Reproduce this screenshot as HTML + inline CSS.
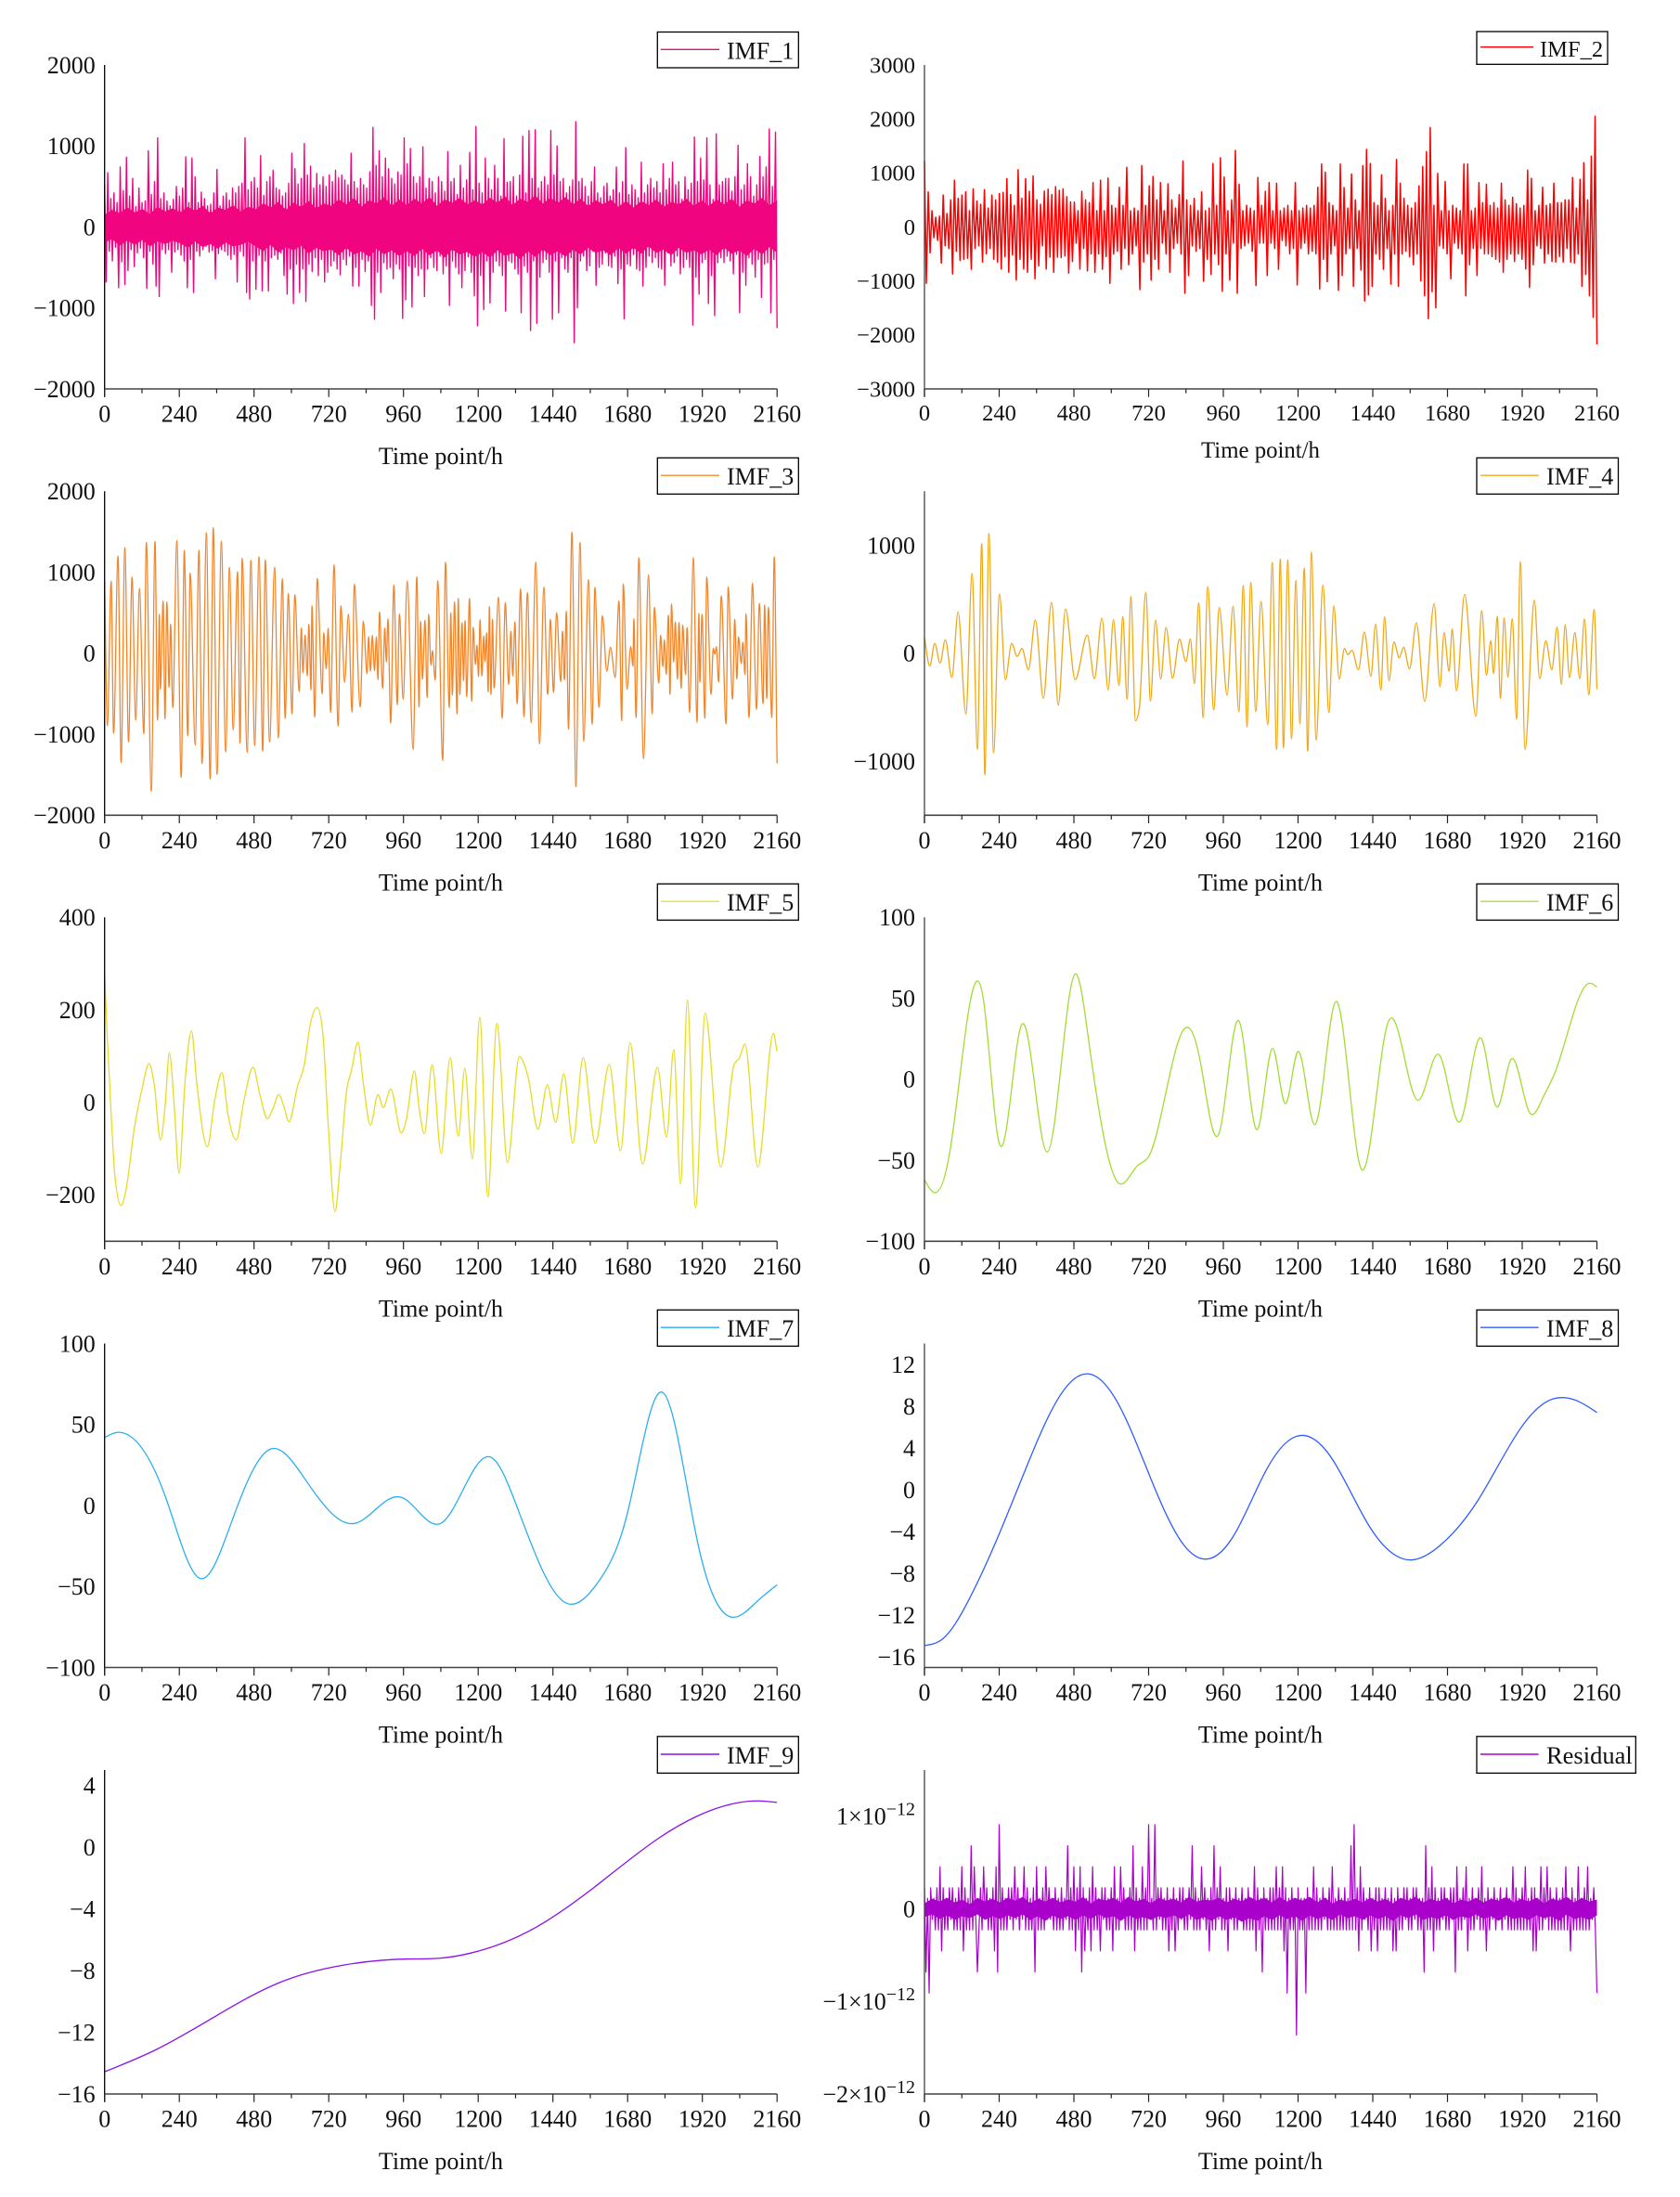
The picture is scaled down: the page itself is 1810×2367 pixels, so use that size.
<!DOCTYPE html>
<html lang="en">
<head>
<meta charset="utf-8">
<title>IMF decomposition</title>
<style>
html,body{margin:0;padding:0;background:#fff;}
svg{display:block;font-family:"Liberation Serif",serif;fill:#111;}
text{fill:#111;}
.lb{fill:#fff;stroke:#000;stroke-width:1.3;}
.s{fill:none;stroke-linejoin:round;}
</style>
</head>
<body>
<svg id="figure" xmlns="http://www.w3.org/2000/svg" width="1810" height="2367" viewBox="0 0 1810 2367">
<rect x="0" y="0" width="1810" height="2367" fill="#fff"/>

<g id="p1">
<text x="475" y="500" font-size="26" text-anchor="middle">Time point/h</text>
<rect class="lb" x="708.3" y="34.5" width="152" height="38.5"/>
<line x1="711.7" x2="775" y1="53.3" y2="53.3" stroke="#f0047f" stroke-width="1.4"/>
<text x="783" y="63.3" font-size="26">IMF_1</text>
</g>
<g id="p2">
<text x="1358" y="493" font-size="24.8" text-anchor="middle">Time point/h</text>
<rect class="lb" x="1591" y="34" width="141" height="35.3"/>
<line x1="1595" x2="1652" y1="50.7" y2="50.7" stroke="#ff0000" stroke-width="1.4"/>
<text x="1659" y="61" font-size="24.5">IMF_2</text>
</g>
<g id="p3">
<text x="475" y="959.3" font-size="26" text-anchor="middle">Time point/h</text>
<rect class="lb" x="708.3" y="493.3" width="152" height="39"/>
<line x1="711.7" x2="775" y1="512.2" y2="512.2" stroke="#f58a2a" stroke-width="1.4"/>
<text x="783" y="522.2" font-size="26">IMF_3</text>
</g>
<g id="p4">
<text x="1358" y="959.3" font-size="26" text-anchor="middle">Time point/h</text>
<rect class="lb" x="1591" y="493.3" width="152.5" height="39"/>
<line x1="1595" x2="1657.6" y1="512.2" y2="512.2" stroke="#efad20" stroke-width="1.4"/>
<text x="1666" y="522.2" font-size="26">IMF_4</text>
</g>
<g id="p5">
<text x="475" y="1418.3" font-size="26" text-anchor="middle">Time point/h</text>
<rect class="lb" x="708.3" y="952.3" width="152" height="39"/>
<line x1="711.7" x2="775" y1="971.2" y2="971.2" stroke="#e8df35" stroke-width="1.4"/>
<text x="783" y="981.2" font-size="26">IMF_5</text>
</g>
<g id="p6">
<text x="1358" y="1418.3" font-size="26" text-anchor="middle">Time point/h</text>
<rect class="lb" x="1591" y="952.3" width="152.5" height="39"/>
<line x1="1595" x2="1657.6" y1="971.2" y2="971.2" stroke="#a8e03c" stroke-width="1.4"/>
<text x="1666" y="981.2" font-size="26">IMF_6</text>
</g>
<g id="p7">
<text x="475" y="1877.5" font-size="26" text-anchor="middle">Time point/h</text>
<rect class="lb" x="708.3" y="1411.3" width="152" height="39"/>
<line x1="711.7" x2="775" y1="1430.2" y2="1430.2" stroke="#2aaef0" stroke-width="1.4"/>
<text x="783" y="1440.2" font-size="26">IMF_7</text>
</g>
<g id="p8">
<text x="1358" y="1877.5" font-size="26" text-anchor="middle">Time point/h</text>
<rect class="lb" x="1591" y="1411.3" width="152.5" height="39"/>
<line x1="1595" x2="1657.6" y1="1430.2" y2="1430.2" stroke="#2f5cff" stroke-width="1.4"/>
<text x="1666" y="1440.2" font-size="26">IMF_8</text>
</g>
<g id="p9">
<text x="475" y="2337" font-size="26" text-anchor="middle">Time point/h</text>
<rect class="lb" x="708.3" y="1870.8" width="152" height="39.5"/>
<line x1="711.7" x2="775" y1="1890" y2="1890" stroke="#8a10e8" stroke-width="1.4"/>
<text x="783" y="1900" font-size="26">IMF_9</text>
</g>
<g id="p10">
<text x="1358" y="2337" font-size="26" text-anchor="middle">Time point/h</text>
<rect class="lb" x="1591" y="1870.8" width="171.3" height="39.5"/>
<line x1="1595" x2="1657.6" y1="1890" y2="1890" stroke="#aa00cc" stroke-width="1.4"/>
<text x="1666" y="1900" font-size="26.5">Residual</text>
</g>
</svg>

<script>
// ---------- shared axis data ----------
const xTickHours = [0,240,480,720,960,1200,1440,1680,1920,2160];
const xMinorHours = [120,360,600,840,1080,1320,1560,1800,2040];
const imf1Ticks = [-2000,-1000,0,1000,2000];
const imf2Ticks = [-3000,-2000,-1000,0,1000,2000,3000];
const imf3Ticks = [-2000,-1000,0,1000,2000];
const imf4Ticks = [-1000,0,1000];
const imf5Ticks = [-200,0,200,400];
const imf6Ticks = [-100,-50,0,50,100];
const imf7Ticks = [-100,-50,0,50,100];
const imf8Ticks = [-16,-12,-8,-4,0,4,8,12];
const imf9Ticks = [-16,-12,-8,-4,0,4];
const residualTicks = [-2,-1,0,1];

// ---------- IMF_1: evenly spaced samples across 0..2160 h ----------
const imf1Values = [
520,-680,670,-300,350,-420,420,-250,300,-750,740,-430,450,-710,860,-540,380,-280,600,-490,
250,-320,480,-260,300,-380,320,-760,940,-300,400,-460,560,-730,1100,-860,350,-280,420,-330,
320,-280,260,-560,340,-310,500,-280,380,-350,480,-420,865,-750,300,-400,850,-810,620,-300,
300,-360,430,-280,350,-240,260,-310,280,-290,420,-640,710,-330,260,-280,380,-300,420,-350,
330,-400,480,-340,420,-680,500,-300,540,-360,1100,-810,460,-890,560,-420,610,-770,480,-350,
880,-790,390,-420,560,-790,620,-380,700,-350,480,-400,460,-320,380,-600,420,-830,540,-520,
910,-945,720,-460,530,-810,600,-520,1030,-920,640,-460,750,-550,480,-380,660,-600,520,-400,
620,-680,500,-560,640,-480,560,-420,700,-520,610,-590,640,-400,580,-470,520,-360,910,-730,
560,-500,480,-730,600,-400,520,-550,480,-420,680,-970,1230,-1140,760,-560,940,-810,620,-440,
850,-520,720,-500,600,-640,530,-460,680,-520,640,-1130,1100,-900,780,-480,970,-990,620,-500,
540,-600,620,-520,990,-860,480,-520,600,-380,560,-500,420,-540,620,-360,560,-580,440,-480,
930,-970,560,-420,600,-500,400,-580,760,-750,480,-540,580,-370,920,-560,460,-850,1240,-1220,
540,-600,420,-1020,850,-420,600,-940,460,-560,760,-420,600,-480,380,-600,1090,-1040,550,-420,
560,-440,620,-520,380,-580,640,-1060,1120,-480,420,-560,1190,-1280,600,-420,1200,-1190,480,-620,
560,-440,620,-400,520,-560,1190,-1140,640,-420,1000,-1060,560,-380,600,-520,420,-560,500,-380,
580,-1430,1300,-1000,560,-420,600,-360,500,-540,380,-480,560,-300,740,-720,420,-500,360,-460,
500,-320,540,-480,380,-500,460,-360,740,-700,420,-520,560,-1135,980,-460,400,-480,520,-340,
460,-520,360,-540,800,-730,420,-500,520,-360,600,-440,480,-380,560,-500,420,-520,780,-720,
460,-320,600,-480,800,-440,520,-360,560,-580,340,-500,620,-400,460,-500,540,-1210,1110,-620,
560,-830,850,-440,580,-400,1100,-945,520,-600,340,-1095,1150,-440,520,-380,560,-440,600,-360,
600,-420,440,-580,620,-340,1010,-1060,460,-560,520,-720,780,-380,620,-460,380,-620,520,-400,
870,-870,620,-460,740,-440,1210,-1060,500,-400,1170,-1250
];
// solid core of the dense trace, evenly spaced across the span
const imf1BandUpper = [
150,210,170,240,180,220,160,250,190,230,
180,250,200,260,170,240,210,270,190,250,
220,290,240,310,210,300,250,320,230,290,
260,340,280,360,250,330,290,370,260,340,
270,350,290,370,260,340,300,360,280,330,
280,360,300,380,270,350,310,390,290,360,
300,370,280,350,260,330,280,340,250,320,
240,320,270,340,250,310,280,350,260,330,
260,340,280,350,250,330,290,360,270,330];
const imf1BandLower = [
-190,-150,-230,-170,-220,-160,-240,-180,-210,-170,
-200,-260,-180,-250,-210,-270,-190,-240,-220,-180,
-240,-300,-220,-320,-250,-290,-230,-330,-260,-300,
-280,-350,-260,-340,-300,-370,-270,-340,-290,-360,
-300,-360,-270,-350,-290,-380,-280,-340,-310,-370,
-310,-380,-290,-360,-320,-400,-300,-370,-280,-350,
-300,-370,-280,-340,-260,-320,-290,-350,-260,-330,
-260,-330,-240,-320,-280,-350,-260,-320,-290,-340,
-280,-350,-260,-330,-290,-360,-270,-340,-250,-320];

// ---------- IMF_2: evenly spaced samples ----------
const imf2Values = [
1220,-1045,650,-480,300,-200,180,-250,200,-670,590,-350,250,-400,500,-870,866,-450,530,-620,
590,-600,650,-580,300,-785,705,-400,480,-350,420,-650,690,-500,350,-400,590,-600,500,-650,
620,-780,640,-550,895,-840,600,-520,400,-985,1060,-600,530,-780,895,-840,660,-600,945,-960,
500,-720,420,-350,665,-780,700,-560,600,-840,745,-560,680,-570,705,-540,560,-855,465,-640,
460,-300,300,-780,660,-400,500,-815,450,-500,820,-840,300,-500,866,-785,300,-550,905,-1045,
400,-500,350,-450,735,-785,400,-400,1105,-700,300,-500,350,-350,300,-1160,1135,-650,400,-500,
760,-985,935,-600,500,-785,820,-300,300,-500,800,-840,500,-400,350,-300,600,-500,1220,-1230,
500,-900,400,-350,530,-450,300,-400,650,-1005,300,-600,350,-880,1175,-500,400,-700,1280,-1190,
925,-500,300,-985,500,-300,1417,-1230,790,-400,300,-350,400,-300,350,-450,300,-1085,915,-300,
400,-300,660,-900,820,-300,300,-400,810,-785,300,-250,350,-350,400,-500,300,-400,820,-1075,
300,-400,350,-300,400,-500,350,-450,400,-500,735,-1150,1165,-600,1015,-1015,450,-500,400,-350,
300,-1175,1165,-900,730,-500,350,-400,980,-1100,500,-400,300,-800,1135,-1370,1435,-1260,1175,-1100,
450,-500,400,-600,965,-785,530,-400,300,-1060,400,-500,1250,-1100,810,-500,530,-450,400,-550,
350,-700,450,-500,760,-1000,1120,-1275,1395,-1700,1840,-1200,400,-1500,990,-350,300,-400,840,-500,
300,-960,400,-300,350,-400,300,-500,1165,-1275,1165,-700,300,-400,350,-900,820,-400,450,-500,
790,-500,400,-550,450,-600,350,-650,810,-840,500,-600,400,-500,550,-640,430,-500,350,-600,
400,-780,1050,-1120,900,-700,300,-350,400,-400,735,-670,400,-500,430,-640,810,-650,450,-550,
450,-650,500,-400,500,-650,915,-670,350,-500,880,-1100,1190,-880,500,-1275,1310,-1675,2050,-2175
];

// ---------- IMF_3: extrema, hours + values ----------
const imf3Hours = [0,9,21,29,43,53,65,77,88,100,112,126,134,150,162,170,176,179,188,194,200,207,212,219,232,246,256,267,275,291,303,313,327,339,349,361,375,389,401,413,427,435,442,458,470,482,496,508,516,530,546,558,571,580,590,602,611,625,632,637,644,651,656,663,666,675,683,699,704,712,718,726,737,750,759,771,783,795,802,821,831,843,848,854,860,867,873,878,883,893,900,905,910,919,929,940,947,959,972,991,1003,1010,1015,1021,1029,1036,1041,1048,1053,1062,1070,1086,1095,1107,1112,1117,1124,1132,1136,1141,1148,1153,1158,1163,1172,1179,1184,1191,1196,1201,1206,1212,1218,1222,1227,1232,1236,1241,1246,1251,1265,1277,1287,1298,1305,1311,1318,1325,1336,1347,1358,1370,1385,1397,1411,1423,1432,1442,1452,1465,1471,1477,1483,1490,1501,1514,1527,1539,1554,1566,1575,1588,1599,1613,1625,1640,1652,1661,1666,1678,1690,1697,1700,1707,1716,1731,1747,1759,1766,1780,1786,1793,1798,1804,1811,1816,1821,1828,1833,1840,1845,1852,1857,1866,1871,1879,1891,1903,1909,1912,1919,1928,1934,1948,1955,1960,1965,1972,1981,1996,2003,2017,2024,2031,2036,2045,2050,2057,2060,2070,2081,2094,2103,2115,2120,2127,2132,2143,2151,2160];
const imf3Values = [880,-892,892,-987,1201,-1350,1304,-1094,942,-827,800,-995,1370,-1706,1381,-827,483,-445,647,-815,636,-422,361,-674,1392,-1534,1270,-1018,991,-1133,1270,-1362,1488,-1553,1549,-1495,1381,-1217,1060,-949,1007,-1110,1175,-1224,1148,-1140,1190,-1209,1152,-1094,1060,-1045,923,-808,739,-751,724,-472,311,-243,227,-281,357,-453,586,-789,923,-502,254,-193,311,-732,1094,-900,586,-357,483,-728,854,-663,395,-254,208,-223,223,-216,204,-327,510,-434,311,-109,426,-865,846,-636,483,-567,892,-1186,942,-663,395,-319,407,-548,483,-147,32,-330,896,-1324,1125,-674,502,-518,636,-751,678,-510,376,-338,403,-537,678,-594,323,-139,101,-288,414,-281,216,-101,254,-479,579,-510,418,-430,693,-804,625,-384,273,-281,388,-625,796,-785,751,-858,1125,-1117,819,-510,418,-483,502,-350,273,-330,521,-938,1496,-1648,1369,-1083,911,-880,816,-670,464,-223,74,-300,647,-835,854,-445,82,-159,426,-796,1178,-1301,968,-751,567,-369,223,-166,166,-262,472,-510,609,-109,388,-319,380,-434,349,-262,319,-732,1182,-854,495,-357,483,-804,942,-510,63,-13,82,-357,709,-873,819,-567,418,-319,204,-128,136,-262,487,-796,865,-693,617,-625,598,-560,571,-796,1190,-1362];

// ---------- IMF_4: extrema ----------
const imf4Hours = [0,17,33,50,67,88,108,133,153,170,184,194,207,222,241,260,280,298,313,334,356,382,408,430,453,484,523,546,570,590,607,625,637,651,663,678,690,711,726,742,759,776,797,819,840,854,867,881,895,910,929,947,972,991,1010,1024,1036,1048,1064,1081,1103,1117,1131,1143,1153,1167,1179,1193,1206,1220,1231,1243,1258,1280,1299,1315,1332,1349,1360,1373,1394,1413,1434,1449,1466,1478,1492,1508,1525,1539,1558,1580,1607,1637,1656,1669,1685,1695,1709,1735,1771,1790,1805,1819,1828,1840,1850,1862,1874,1888,1902,1914,1929,1959,1976,1996,2015,2032,2046,2058,2072,2089,2105,2120,2134,2151,2160];
const imf4Values = [148,-119,90,-90,125,-225,382,-563,738,-890,1016,-1127,1110,-921,549,-245,90,-30,44,-153,308,-417,471,-480,411,-245,168,-236,325,-340,311,-299,339,-425,526,-626,-511,563,-443,308,-239,239,-231,130,-76,133,-282,466,-597,617,-526,425,-388,434,-540,629,-683,657,-540,480,-663,841,-890,872,-875,864,-792,675,-655,789,-907,935,-804,632,-549,437,-239,44,-13,27,-153,196,-213,268,-340,337,-254,105,-42,56,-145,282,-446,460,-311,191,-168,225,-348,546,-583,394,-205,116,-188,342,-417,328,-222,319,-612,849,-890,491,-236,116,-153,242,-288,265,-225,191,-236,316,-385,405,-334];

// ---------- IMF_5: turning points ----------
const imf5Hours = [0,9,22,34,53,69,95,120,143,160,179,194,208,224,239,258,279,296,330,353,377,396,423,447,477,499,523,542,559,577,592,620,642,659,683,700,718,740,757,778,792,814,831,854,878,895,919,953,969,995,1010,1027,1052,1081,1110,1136,1157,1181,1205,1231,1260,1294,1332,1360,1392,1422,1449,1475,1504,1537,1576,1621,1657,1688,1728,1776,1805,1828,1850,1872,1898,1929,1979,2022,2039,2057,2098,2148,2160];
const imf5Values = [276,136,-38,-165,-223,-188,-58,29,84,36,-81,-11,107,-11,-153,42,154,42,-96,2,64,-25,-81,2,76,16,-35,-11,17,-11,-42,36,83,163,205,156,-45,-236,-132,29,66,130,42,-49,17,-11,29,-66,-38,68,-11,-68,82,-110,97,-73,74,-122,184,-204,171,-130,99,56,-58,38,-43,62,-88,97,-88,82,-105,129,-133,76,-75,114,-176,221,-228,193,-140,82,96,126,-140,149,110];

// ---------- IMF_6 ----------
const imf6Hours = [0,34,83,155,191,241,313,394,484,526,623,686,722,830,885,947,1010,1069,1118,1159,1199,1253,1321,1402,1487,1586,1654,1721,1789,1838,1883,1942,1985,2027,2131,2160];
const imf6Values = [-62,-70,-43,55,47,-40,34,-45,65,26,-64,-53,-47,30,12,-33,36,-31,19,-15,17,-28,48,-55,34,-13,15,-26,25,-17,12,-20,-12,5,59,57];

// ---------- IMF_7 ----------
const imf7Hours = [0,36,94,198,306,410,535,634,805,954,1080,1238,1323,1480,1590,1679,1791,1904,2021,2097,2160];
const imf7Values = [42,45,41,4,-45,-9,35,19,-11,5,-11,30,0,-60,-46,-5,70,-22,-69,-59,-49];

// ---------- IMF_8 ----------
const imf8Hours = [0,57,143,229,332,435,525,625,728,831,914,995,1098,1193,1220,1313,1425,1528,1568,1657,1778,1915,2019,2062,2105,2160];
const imf8Values = [-14.9,-14.3,-10.5,-5,2.5,9,11.1,8.1,1,-5.2,-6.6,-4.3,1.9,5.1,5.2,2.8,-3.3,-6.5,-6.7,-5.3,-1,5.9,8.7,8.8,8.4,7.4];

// ---------- IMF_9 ----------
const imf9Hours = [0,163,353,559,766,972,1076,1179,1385,1592,1781,1902,2040,2100,2160];
const imf9Values = [-14.56,-13.15,-11,-8.8,-7.65,-7.25,-7.2,-6.85,-5.2,-2.3,0.6,2,2.9,3,2.9];

// ---------- Residual: evenly spaced samples, in floating-point quanta ----------
const residualQuantum = 0.2274; // one quantum in units of 1e-12
const residualQuanta = [
1,-3,.5,-4,1,-.5,.5,-1,1,-1,2,-2,1,-1,.5,-1,1,-.5,1,-1,
.5,-1,1,-1,2,-2,1,-1,.5,-1,3,-1,2,-.5,-3,-1,1,-1,2,-.5,
1,-1,.5,-1,1,-2,2,-3,4,-1,1,-1,.5,-1,1,-.5,1,-1,2,-.5,
1,-1,.5,-.5,2,-1,1,-1,.5,-1,1,-3,2,-1,.5,-1,1,-1,2,-.5,
1,-.5,.5,-1,1,-1,.5,-1,1,-1,.5,-.5,3,-1,1,-1,2,-2,1,-1,
2,-3,1,-2,.5,-1,1,-2,2,-1,1,-1,.5,-2,1,-.5,1,-1,.5,-1,
1,-2,2,-1,.5,-1,2,-.5,1,-1,.5,-1,1,-1,3,-2,1,-1,.5,-1,
2,-1,1,-1,4,-.5,.5,-1,4,-1,1,-.5,1,-1,.5,-1,1,-2,.5,-1,
1,-2,.5,-1,1,-.5,1,-1,.5,-1,1,-.5,3,-1,1,-1,.5,-1,2,-.5,
1,-1,.5,-2,1,-1,3,-1,1,-.5,2,-1,.5,-1,1,-2,1,-.5,.5,-1,
1,-1,.5,-.5,1,-1,.5,-1,1,-1,.5,-1,2,-2,1,-1,.5,-3,1,-1,
.5,-1,1,-1,1,-1,2,-1,1,-1,2,-2,1,-4,.5,-1,1,-1,.5,-6,
1,-1,.5,-1,.5,-4,1,-1,.5,-1,2,-1,1,-1,.5,-1,1,-.5,.5,-1,
1,-1,2,-1,.5,-1,1,-1,.5,-1,1,-1,.5,-1,3,-1,4,-1,1,-2,
2,-1,1,-.5,.5,-1,1,-2,.5,-1,1,-2,1,-1,.5,-1,1,-1,.5,-1,
1,-2,.5,-2,1,-1,.5,-1,1,-.5,1,-1,.5,-1,1,-.5,1,-1,.5,-1,
.5,-3,3,-1,1,-1,2,-2,1,-1,.5,-1,1,-.5,1,-1,.5,-1,1,-.5,
1,-3,2,-1,.5,-1,1,-.5,2,-2,.5,-1,1,-1,.5,-.5,1,-1,2,-1,
.5,-2,1,-1,.5,-.5,1,-1,.5,-.5,1,-1,.5,-.5,1,-1,.5,-1,2,-1,
1,-1,.5,-1,1,-1,2,-1,.5,-1,1,-2,1,-2,.5,-1,2,-1,1,-.5,
2,-1,1,-1,.5,-1,1,-1,.5,-1,1,-1,2,-1,.5,-2,1,-1,.5,-1,
2,-1,.5,-1,1,-1,2,-1,.5,-.5,1,-1,-4
];
const residualBandUpper = [
.06,.11,.08,.12,.07,.1,.05,.12,.08,.11,
.07,.12,.09,.13,.06,.11,.08,.12,.07,.1,
.08,.13,.06,.11,.09,.12,.07,.13,.08,.11,
.06,.12,.09,.11,.07,.13,.08,.1,.09,.12,
.07,.11,.08,.13,.09,.12,.07,.13,.08,.12,
.09,.13,.07,.12,.06,.1,.08,.11,.07,.12,
.08,.11,.06,.12,.09,.13,.07,.11,.08,.12,
.06,.1,.08,.12,.07,.11,.09,.13,.07,.11,
.08,.12,.06,.11,.09,.13,.07,.12,.08,.1];
const residualBandLower = [
-.09,-.06,-.11,-.07,-.12,-.08,-.1,-.06,-.12,-.08,
-.11,-.07,-.1,-.06,-.12,-.08,-.13,-.07,-.11,-.08,
-.12,-.07,-.11,-.06,-.1,-.08,-.13,-.07,-.11,-.09,
-.12,-.08,-.1,-.07,-.11,-.06,-.12,-.09,-.13,-.08,
-.12,-.09,-.14,-.1,-.13,-.08,-.12,-.07,-.11,-.08,
-.13,-.07,-.11,-.08,-.12,-.06,-.1,-.08,-.12,-.07,
-.11,-.08,-.13,-.07,-.1,-.06,-.12,-.09,-.11,-.07,
-.12,-.08,-.1,-.06,-.11,-.08,-.13,-.07,-.11,-.09,
-.12,-.07,-.1,-.08,-.13,-.06,-.11,-.09,-.12,-.07];

const NS = 'http://www.w3.org/2000/svg';
const HOURS_MAX = 2160;
const PLOT_W = 724.5;
const PLOT_H = 349;

function evenHours(values){
  return values.map(function(_, i){ return i * HOURS_MAX / (values.length - 1); });
}
const residualValues = residualQuanta.map(function(q){ return q * residualQuantum; });

function add(parent, tag){
  const el = document.createElementNS(NS, tag);
  parent.appendChild(el);
  return el;
}

function linePath(px, py){
  let d = '';
  for (let i = 0; i < px.length; i++){
    d += (i ? 'L' : 'M') + px[i].toFixed(2) + ' ' + py[i].toFixed(2);
  }
  return d;
}

function bezierPath(px, py, m){
  let d = 'M' + px[0].toFixed(2) + ' ' + py[0].toFixed(2);
  for (let i = 0; i < px.length - 1; i++){
    const h = (px[i+1] - px[i]) / 3;
    d += 'C' + (px[i] + h).toFixed(2) + ' ' + (py[i] + m[i] * h).toFixed(2) + ' ' +
         (px[i+1] - h).toFixed(2) + ' ' + (py[i+1] - m[i+1] * h).toFixed(2) + ' ' +
         px[i+1].toFixed(2) + ' ' + py[i+1].toFixed(2);
  }
  return d;
}

// monotone cubic through the turning points
function smoothPath(px, py){
  const n = px.length;
  const m = new Array(n).fill(0);
  const s = [];
  for (let i = 0; i < n - 1; i++){ s.push((py[i+1] - py[i]) / (px[i+1] - px[i])); }
  for (let i = 1; i < n - 1; i++){
    if (s[i-1] * s[i] > 0){
      const h0 = px[i] - px[i-1], h1 = px[i+1] - px[i];
      const p = (s[i-1] * h1 + s[i] * h0) / (h0 + h1);
      m[i] = (Math.sign(s[i-1]) + Math.sign(s[i])) * Math.min(Math.abs(s[i-1]), Math.abs(s[i]), 0.5 * Math.abs(p));
    }
  }
  m[0] = s[0]; m[n-1] = s[n-2];
  return bezierPath(px, py, m);
}

// natural cubic spline for the slow components
function splinePath(px, py){
  const n = px.length;
  const a = new Array(n).fill(0), b = new Array(n).fill(0), c = new Array(n).fill(0), r = new Array(n).fill(0);
  const h = [];
  for (let i = 0; i < n - 1; i++){ h.push(px[i+1] - px[i]); }
  b[0] = 2 / h[0]; c[0] = 1 / h[0]; r[0] = 3 * (py[1] - py[0]) / (h[0] * h[0]);
  for (let i = 1; i < n - 1; i++){
    a[i] = 1 / h[i-1];
    b[i] = 2 / h[i-1] + 2 / h[i];
    c[i] = 1 / h[i];
    r[i] = 3 * ((py[i] - py[i-1]) / (h[i-1] * h[i-1]) + (py[i+1] - py[i]) / (h[i] * h[i]));
  }
  a[n-1] = 1 / h[n-2]; b[n-1] = 2 / h[n-2]; r[n-1] = 3 * (py[n-1] - py[n-2]) / (h[n-2] * h[n-2]);
  for (let i = 1; i < n; i++){
    const w = a[i] / b[i-1];
    b[i] -= w * c[i-1];
    r[i] -= w * r[i-1];
  }
  const m = new Array(n);
  m[n-1] = r[n-1] / b[n-1];
  for (let i = n - 2; i >= 0; i--){ m[i] = (r[i] - c[i] * m[i+1]) / b[i]; }
  return bezierPath(px, py, m);
}

const panels = [
 {id:'p1', x:112.7, top:70,     yMin:-2000, yMax:2000, ticks:imf1Ticks, hours:evenHours(imf1Values), values:imf1Values, upper:imf1BandUpper, lower:imf1BandLower, color:'#f0047f', width:1.35, curve:'line', fs:26, axis:'#000', tickDy:35.5},
 {id:'p2', x:996,   top:70,     yMin:-3000, yMax:3000, ticks:imf2Ticks, hours:evenHours(imf2Values), values:imf2Values, color:'#ff0000', width:1.5, curve:'line', fs:24.5, axis:'#444', tickDy:34},
 {id:'p3', x:112.7, top:529.3,  yMin:-2000, yMax:2000, ticks:imf3Ticks, hours:imf3Hours, values:imf3Values, color:'#f2852a', width:1.3, curve:'mono', fs:26, axis:'#000', tickDy:35.5},
 {id:'p4', x:996,   top:529.3,  yMin:-1500, yMax:1500, ticks:imf4Ticks, hours:imf4Hours, values:imf4Values, color:'#efa818', width:1.3, curve:'mono', fs:26, axis:'#444', tickDy:35.5},
 {id:'p5', x:112.7, top:988.3,  yMin:-300,  yMax:400,  ticks:imf5Ticks, hours:imf5Hours, values:imf5Values, color:'#e6dc25', width:1.3, curve:'mono', fs:26, axis:'#000', tickDy:35.5},
 {id:'p6', x:996,   top:988.3,  yMin:-100,  yMax:100,  ticks:imf6Ticks, hours:imf6Hours, values:imf6Values, color:'#a2dc30', width:1.3, curve:'spline', fs:26, axis:'#444', tickDy:35.5},
 {id:'p7', x:112.7, top:1447.5, yMin:-100,  yMax:100,  ticks:imf7Ticks, hours:imf7Hours, values:imf7Values, color:'#2aaef0', width:1.3, curve:'spline', fs:26, axis:'#000', tickDy:35.5},
 {id:'p8', x:996,   top:1447.5, yMin:-17,   yMax:14,   ticks:imf8Ticks, hours:imf8Hours, values:imf8Values, color:'#2f5cff', width:1.3, curve:'spline', fs:26, axis:'#444', tickDy:35.5},
 {id:'p9', x:112.7, top:1907,   yMin:-16,   yMax:5,    ticks:imf9Ticks, hours:imf9Hours, values:imf9Values, color:'#8a10e8', width:1.3, curve:'spline', fs:26, axis:'#000', tickDy:35.5},
 {id:'p10',x:996,   top:1907,   yMin:-2,    yMax:1.5,  ticks:residualTicks, hours:evenHours(residualValues), values:residualValues, upper:residualBandUpper, lower:residualBandLower, color:'#aa00cc', width:1.2, curve:'line', fs:26, axis:'#444', tickDy:35.5, sci:true}
];

panels.forEach(function(p){
  const g = document.getElementById(p.id);
  const xScale = function(h){ return p.x + h / HOURS_MAX * PLOT_W; };
  const yScale = function(v){ return p.top + (p.yMax - v) / (p.yMax - p.yMin) * PLOT_H; };
  const bottom = p.top + PLOT_H;

  if (p.upper){
    const bx = evenHours(p.upper).map(xScale);
    const up = p.upper.map(yScale);
    const low = p.lower.map(yScale);
    const band = add(g, 'path');
    
    
    band.setAttribute('d', linePath(bx.concat(bx.slice().reverse()), up.concat(low.slice().reverse())) + 'Z');
    band.setAttribute('fill', p.color);
    band.setAttribute('stroke', 'none');
  }

  const series = add(g, 'path');
  
  
  const px = p.hours.map(xScale);
  const py = p.values.map(yScale);
  series.setAttribute('d', p.curve === 'line' ? linePath(px, py) : (p.curve === 'mono' ? smoothPath(px, py) : splinePath(px, py)));
  series.setAttribute('class', 's');
  series.setAttribute('stroke', p.color);
  series.setAttribute('stroke-width', p.width);

  const yAxis = add(g, 'line');
  
  
  yAxis.setAttribute('x1', p.x);
  yAxis.setAttribute('x2', p.x);
  yAxis.setAttribute('y1', p.top);
  yAxis.setAttribute('y2', bottom + 8.7);
  yAxis.setAttribute('stroke', p.axis);
  yAxis.setAttribute('stroke-width', 1.3);

  const xAxis = add(g, 'line');
  
  
  xAxis.setAttribute('x1', p.x);
  xAxis.setAttribute('x2', p.x + PLOT_W);
  xAxis.setAttribute('y1', bottom);
  xAxis.setAttribute('y2', bottom);
  xAxis.setAttribute('stroke', '#444');
  xAxis.setAttribute('stroke-width', 1.6);

  xTickHours.forEach(function(h){
    const tick = add(g, 'line');
    
    
    tick.setAttribute('x1', xScale(h));
    tick.setAttribute('x2', xScale(h));
    tick.setAttribute('y1', bottom);
    tick.setAttribute('y2', bottom + 8.7);
    tick.setAttribute('stroke', '#222');
    tick.setAttribute('stroke-width', 1.2);

    const label = add(g, 'text');
    
    
    label.setAttribute('x', xScale(h));
    label.setAttribute('y', bottom + p.tickDy);
    label.setAttribute('font-size', p.fs);
    label.setAttribute('text-anchor', 'middle');
    label.textContent = String(h);
  });

  xMinorHours.forEach(function(h){
    const minor = add(g, 'line');
    
    
    minor.setAttribute('x1', xScale(h));
    minor.setAttribute('x2', xScale(h));
    minor.setAttribute('y1', bottom);
    minor.setAttribute('y2', bottom + 4.7);
    minor.setAttribute('stroke', '#222');
    minor.setAttribute('stroke-width', 1.2);
  });

  p.ticks.forEach(function(v){
    const label = add(g, 'text');
    
    
    label.setAttribute('x', p.x - 10);
    label.setAttribute('y', yScale(v) + p.fs * 0.338);
    label.setAttribute('font-size', p.fs);
    label.setAttribute('text-anchor', 'end');
    const sign = v < 0 ? '\u2212' : '';
    if (p.sci && v !== 0){
      label.appendChild(document.createTextNode(sign + Math.abs(v) + '\u00d710'));
      const sup = add(label, 'tspan');
      
      
      sup.setAttribute('dy', -10);
      sup.setAttribute('font-size', 20);
      sup.textContent = '\u221212';
    } else {
      label.textContent = sign + Math.abs(v);
    }
  });
});
</script>
</body>
</html>
